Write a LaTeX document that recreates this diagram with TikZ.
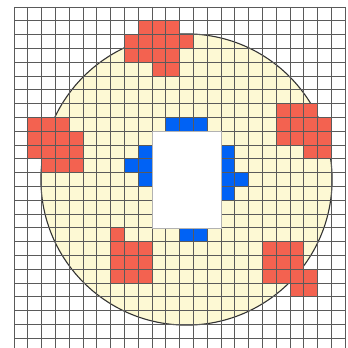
\documentclass[tikz,border=0pt]{standalone}
\definecolor{cream}{RGB}{253,249,212}
\definecolor{cellred}{RGB}{243,98,80}
\definecolor{cellblue}{RGB}{0,98,245}
\definecolor{gridgray}{RGB}{90,90,90}
\tikzset{
  creamfill/.style={fill=cream},
  ringline/.style={draw=black!80,line width=1.1pt},
  redcell/.style={fill=cellred},
  bluecell/.style={fill=cellblue},
  gridline/.style={draw=gridgray,line width=0.9pt},
  hole/.style={fill=white,draw=black!30,line width=0.5pt}
}
\begin{document}
\begin{tikzpicture}[x=13.8pt,y=-13.8pt]
\useasboundingbox[fill=white] (-1.0145,-0.507) rectangle (24.13,24.71);
\fill[creamfill] (12.5,12.5) circle (10.55);
\draw[ringline] (12.5,12.5) circle (10.55);
\foreach \c/\r in {9/1,10/1,11/1,8/2,9/2,10/2,11/2,12/2,8/3,9/3,10/3,11/3,10/4,11/4,
  1/8,2/8,3/8,1/9,2/9,3/9,4/9,1/10,2/10,3/10,4/10,2/11,3/11,4/11,
  19/7,20/7,21/7,19/8,20/8,21/8,22/8,19/9,20/9,21/9,22/9,21/10,22/10,
  18/17,19/17,20/17,18/18,19/18,20/18,18/19,19/19,20/19,21/19,20/20,21/20,
  7/16,7/17,8/17,9/17,7/18,8/18,9/18,7/19,8/19,9/19}
  \fill[redcell] (\c,\r) rectangle ++(1,1);
\foreach \c/\r in {11/8,12/8,13/8,9/10,9/11,9/12,8/11,15/10,15/11,15/12,15/13,16/12,12/16,13/16}
  \fill[bluecell] (\c,\r) rectangle ++(1,1);
\foreach \i in {0,...,24} {
  \draw[gridline] (\i,0) -- (\i,24.71);
  \draw[gridline] (0,\i) -- (24,\i);
}
\filldraw[hole] (10,9) rectangle (15,16);
\end{tikzpicture}
\end{document}
